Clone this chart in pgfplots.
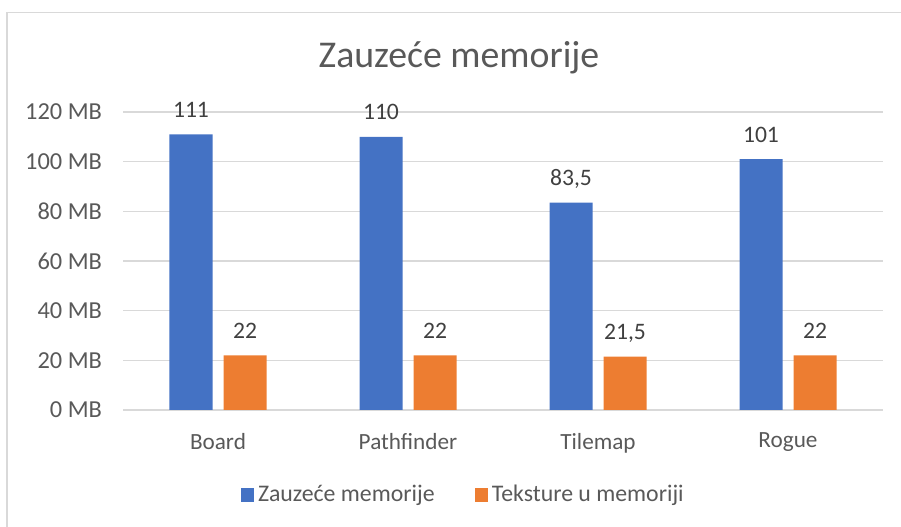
\documentclass[border=0pt]{standalone}
\usepackage{pgfplots}
\pgfplotsset{compat=1.18}
\usepackage{fontspec}
\setmainfont{Carlito}
\definecolor{barblue}{HTML}{4472C4}
\definecolor{barorange}{HTML}{ED7D31}
\definecolor{gridc}{HTML}{D9D9D9}
\definecolor{txt}{HTML}{595959}
\definecolor{lbl}{HTML}{404040}
\begin{document}
\begin{tikzpicture}
\useasboundingbox (0,0) rectangle (450.5bp,263.5bp);
\draw[gridc, line width=0.75bp] (3.5bp,0) -- (3.5bp,257.25bp) -- (450.5bp,257.25bp);
\node[anchor=base, text=txt, font=\fontsize{18.9bp}{22bp}\selectfont] at (229.5bp,229.5bp) {Zauzeće memorije};
\begin{axis}[
  at={(61.5bp,58.5bp)}, anchor=south west,
  scale only axis, width=380bp, height=149bp,
  xmin=-0.5, xmax=3.5, ymin=0, ymax=120,
  ybar=5.5bp, bar width=21.5bp,
  xtick={0,1,2,3}, xticklabels={Board,Pathfinder,Tilemap,Rogue},
  ytick={0,20,40,60,80,100,120},
  yticklabels={0 MB,20 MB,40 MB,60 MB,80 MB,100 MB,120 MB},
  major tick length=0pt,
  axis line style={draw=none},
  ymajorgrids, grid style={gridc, line width=0.75bp},
  tick label style={text=txt},
  xticklabel style={yshift=-8bp, font=\fontsize{11.6bp}{14bp}\selectfont},
  yticklabel style={xshift=-7bp, font=\fontsize{12.2bp}{14bp}\selectfont},
  /pgf/number format/assume math mode=true,
  /pgf/number format/use comma,
  /pgf/number format/precision=1,
  nodes near coords,
  every node near coord/.append style={anchor=base, yshift=8.5bp, text=lbl, font=\fontsize{11.8bp}{14bp}\selectfont},
  legend columns=2,
  legend style={at={(0.449,0)}, anchor=center, yshift=-42.5bp, draw=none, fill=none,
    font=\fontsize{11.9bp}{14bp}\selectfont, text=txt,
    /tikz/every even column/.append style={column sep=18bp}},
  legend image code/.code={\fill[#1, draw=none] (0bp,-3.3bp) rectangle (6.6bp,3.3bp);},
  legend cell align=left,
]
\addplot[fill=barblue, draw=none] coordinates {(0,111) (1,110) (2,83.5) (3,101)};
\addplot[fill=barorange, draw=none] coordinates {(0,22) (1,22) (2,21.5) (3,22)};
\legend{Zauzeće memorije, Teksture u memoriji}
\end{axis}
\end{tikzpicture}
\end{document}
